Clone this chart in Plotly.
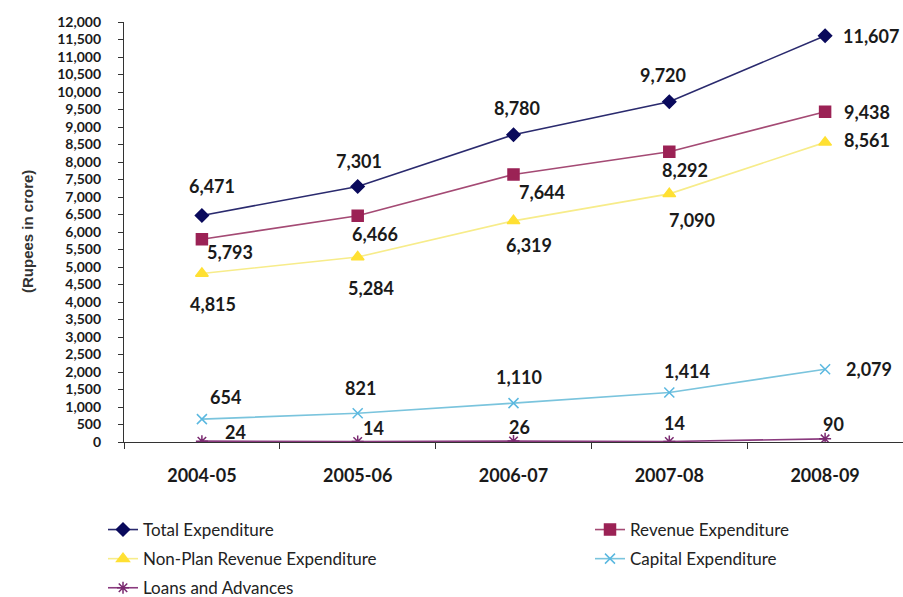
import plotly.graph_objects as go

# Financial years on the category axis
years = ["2004-05", "2005-06", "2006-07", "2007-08", "2008-09"]

# Expenditure series (Rupees in crore)
total_exp = [6471, 7301, 8780, 9720, 11607]
revenue_exp = [5793, 6466, 7644, 8292, 9438]
nonplan_rev_exp = [4815, 5284, 6319, 7090, 8561]
capital_exp = [654, 821, 1110, 1414, 2079]
loans_adv = [24, 14, 26, 14, 90]

y_ticks = list(range(0, 12001, 500))

# Series styles: name, values, line colour, marker colour, symbol, size, legend,
# label offsets in px (dx right, dy down)
series = [
    ("Total Expenditure", total_exp, "#2a2a6e", "#0a0a5c", "diamond", 10, "legend",
     [(10, -30), (1, -25), (3, -27), (-6, -27), (46, 0)]),
    ("Revenue Expenditure", revenue_exp, "#a44a74", "#9b2255", "square", 11, "legend2",
     [(28, 13), (17, 18), (28, 18), (16, 18), (42, 0)]),
    ("Non-Plan Revenue Expenditure", nonplan_rev_exp, "#f7ec8a", "#ffe033", "triangle-up", 11, "legend",
     [(11, 31), (13, 31), (15, 24), (23, 26), (42, -2)]),
    ("Capital Expenditure", capital_exp, "#7ac4dd", "#5ab8e0", "x-thin-open", 10, "legend2",
     [(24, -22), (3, -25), (5, -26), (18, -22), (44, 0)]),
    ("Loans and Advances", loans_adv, "#8a3a7e", "#7a2a70", "asterisk-open", 10, "legend",
     [(34, -9), (16, -14), (6, -14), (5, -19), (8, -15)]),
]

fig = go.Figure()
annotations = []
for i, (name, vals, lc, mc, sym, ms, leg, offs) in enumerate(series):
    fig.add_trace(go.Scatter(
        x=years, y=vals, name=name, mode="lines+markers",
        line=dict(color=lc, width=1.6),
        marker=dict(symbol=sym, size=ms, color=mc, line=dict(color=mc, width=1.5)),
        legend=leg, legendgroup=f"g{i}",
    ))
    for x, v, (dx, dy) in zip(years, vals, offs):
        annotations.append(dict(
            x=x, y=v, xref="x", yref="y", text=f"{v:,}", showarrow=False,
            xshift=dx, yshift=-dy,
            font=dict(family="Lato", size=18, color="#1a1a1a", weight="bold"),
        ))

# Rotated value-axis caption
annotations.append(dict(
    text="(Rupees in crore)", xref="paper", yref="paper",
    x=(27 - 124) / 779, y=0.5, xanchor="center", yanchor="middle",
    textangle=-90, showarrow=False,
    font=dict(family="Liberation Sans", size=15, color="#333333", weight="bold"),
))

legend_style = dict(
    orientation="v", xref="container", yref="container",
    xanchor="left", yanchor="top", bgcolor="rgba(0,0,0,0)",
    font=dict(family="Lato", size=17, color="#222222"),
    tracegroupgap=4, itemwidth=30,
)

fig.update_layout(
    width=903, height=597,
    margin=dict(l=124, r=0, t=22, b=155, autoexpand=False),
    paper_bgcolor="white", plot_bgcolor="white",
    showlegend=True,
    legend=dict(x=103 / 903, y=1 - 512 / 597, **legend_style),
    legend2=dict(x=590 / 903, y=1 - 512 / 597, **legend_style),
    annotations=annotations,
    xaxis=dict(
        type="category", categoryorder="array", categoryarray=years,
        range=[-0.5, 4.5], showline=True, linecolor="#333333", linewidth=1.2,
        ticks="outside", ticklen=6, tickcolor="#333333", tickson="boundaries",
        showgrid=False, zeroline=False, tickangle=0,
        ticklabelstandoff=17,
        tickfont=dict(family="Lato", size=18, color="#1a1a1a", weight="bold"),
    ),
    yaxis=dict(
        range=[0, 12000], tickvals=y_ticks,
        ticktext=[f"{t:,}" for t in y_ticks],
        showline=True, linecolor="#333333", linewidth=1.2,
        ticks="outside", ticklen=5, tickcolor="#333333",
        showgrid=False, zeroline=False, ticklabelstandoff=14,
        tickfont=dict(family="Lato", size=14, color="#1a1a1a", weight="bold"),
    ),
)

fig.write_html("out.html")
